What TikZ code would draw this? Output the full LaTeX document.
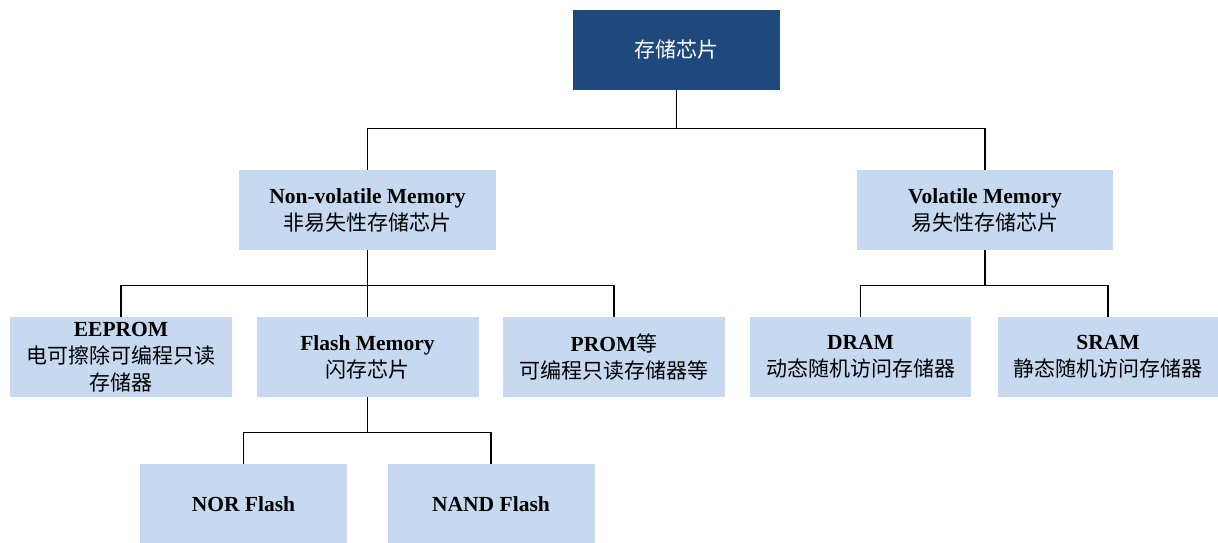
\documentclass[tikz,border=0pt]{standalone}
\usepackage{fontspec}
\setmainfont{Liberation Serif}
\newfontfamily\cjk{Noto Sans CJK SC}
\usetikzlibrary{positioning,calc}
\definecolor{rootblue}{RGB}{31,73,125}
\definecolor{boxblue}{RGB}{198,217,241}
\newcommand{\zh}[1]{{\cjk\mdseries\fontsize{21}{27}\selectfont #1}}
\tikzset{
    chip/.style={rectangle, fill=boxblue, minimum height=80, inner sep=0pt, align=center, font=\fontsize{21.5}{27}\selectfont\bfseries},
    link/.style={line width=1.4pt, black},
}

\begin{document}
\begin{tikzpicture}[x=1pt, y=-1pt]
    \useasboundingbox (0,0) rectangle (1218,542);
    % top
    \node[chip, fill=rootblue, text=white, minimum width=207] (root) at (676.5,50) {\zh{存储芯片}};
    % level 1
    \node[chip, minimum width=257] (nv) at (367.5,210) {Non-volatile Memory\\\zh{非易失性存储芯片}};
    \node[chip, minimum width=256] (vol) at (985,210) {Volatile Memory\\\zh{易失性存储芯片}};
    % level 2
    \node[chip, minimum width=222] (ee) at (121,357) {EEPROM\\\zh{电可擦除可编程只读}\\\zh{存储器}};
    \node[chip, minimum width=222] (flash) at (367.5,357) {Flash Memory\\\zh{闪存芯片}};
    \node[chip, minimum width=222] (prom) at (614,357) {PROM\zh{等}\\\zh{可编程只读存储器等}};
    \node[chip, minimum width=221] (dram) at (860.5,357) {DRAM\\\zh{动态随机访问存储器}};
    \node[chip, minimum width=220] (sram) at (1108,357) {SRAM\\\zh{静态随机访问存储器}};
    % level 3
    \node[chip, minimum width=207] (nor) at (243.5,504) {NOR Flash};
    \node[chip, minimum width=207] (nand) at (491,504) {NAND Flash};

    % connectors
    \foreach \a/\b in {root/nv, root/vol} {
        \draw[link] (\a.south) -- ++(0,38) -| (\b.north);
    }
    \foreach \a/\b in {nv/ee, nv/flash, nv/prom, vol/dram, vol/sram, flash/nor, flash/nand} {
        \draw[link] (\a.south) -- ++(0,35) -| (\b.north);
    }
\end{tikzpicture}
\end{document}
